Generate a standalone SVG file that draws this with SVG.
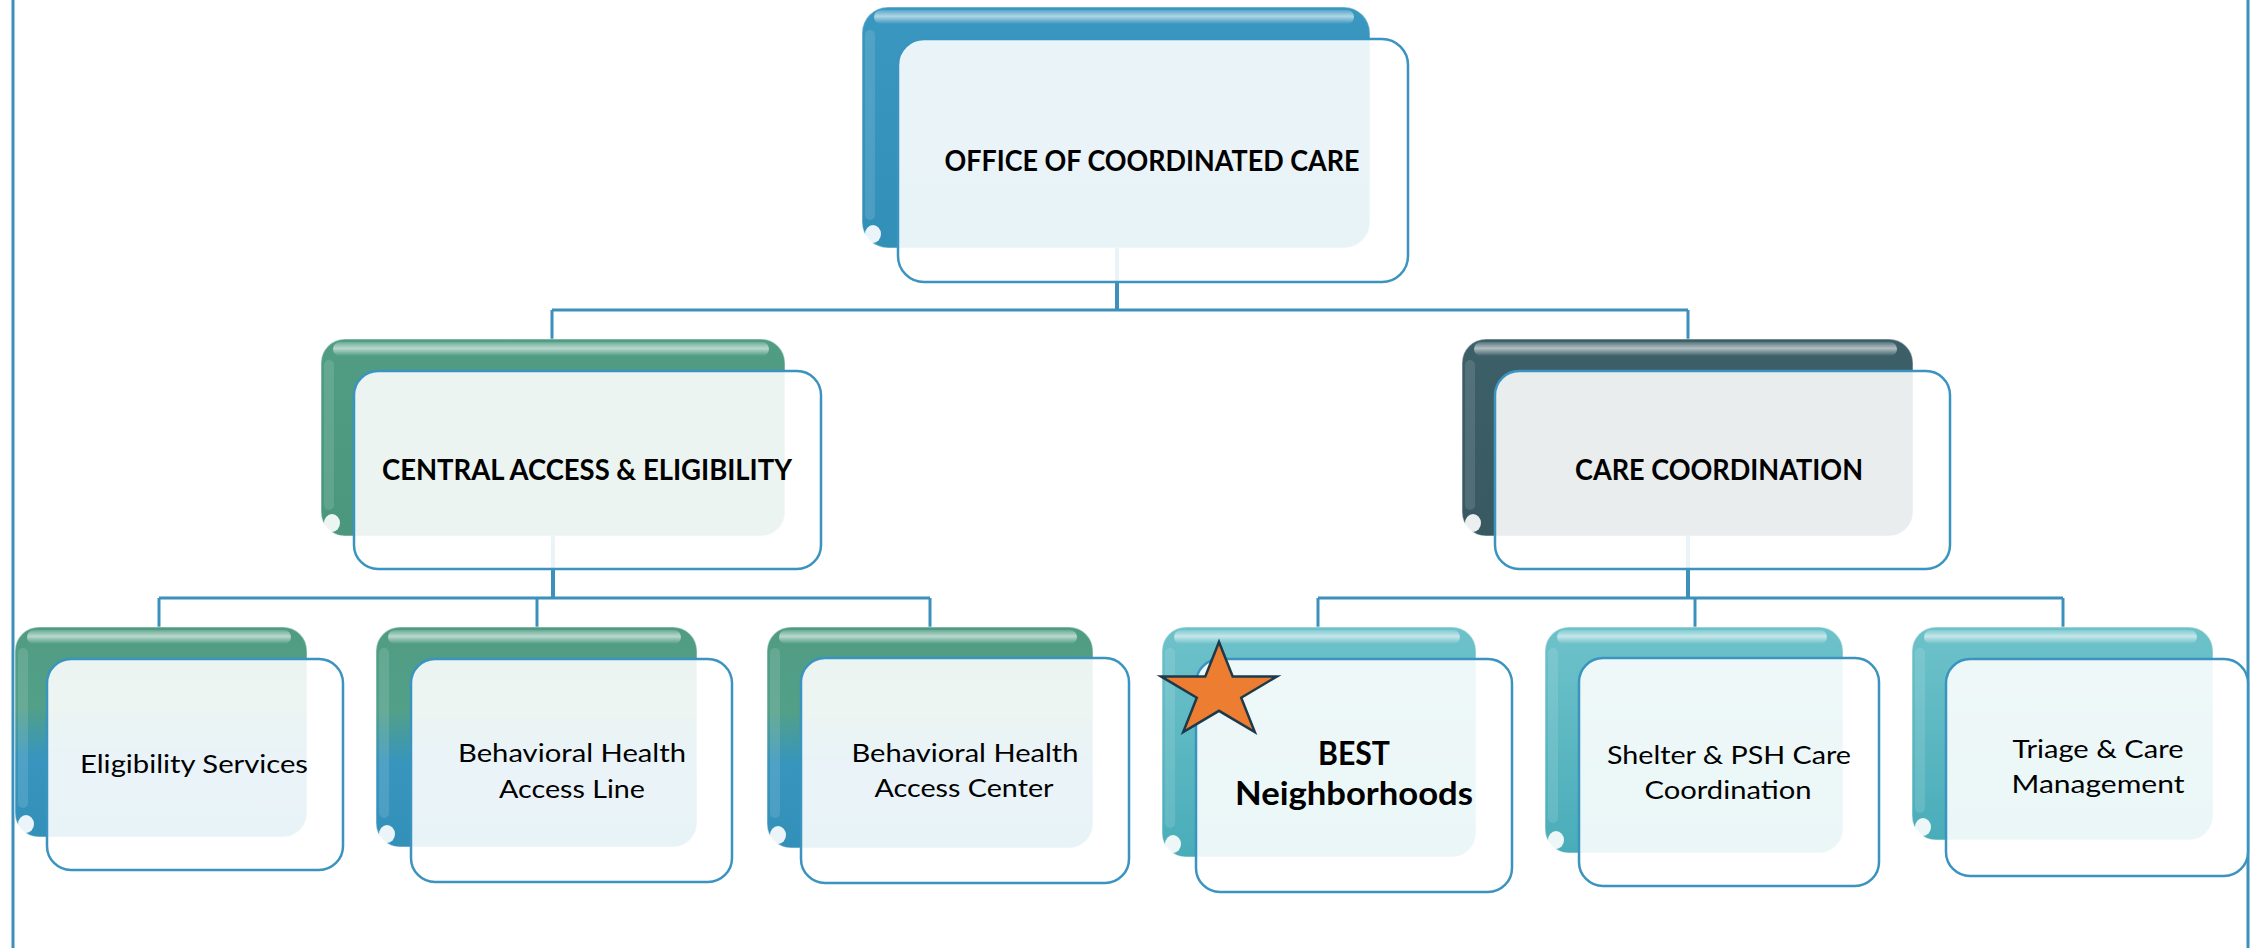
<svg xmlns="http://www.w3.org/2000/svg" width="2259" height="948" viewBox="0 0 2259 948">
<defs>
<style>
.conn{stroke:#3B90BC;stroke-width:3;fill:none}
.connb{stroke:#3B90BC;stroke-width:4;fill:none}
.frame{stroke:#3B90BC;stroke-width:3}
.front{fill:#FFFFFF;fill-opacity:0.89;stroke:#3B93C0;stroke-width:2.5}
.band{fill:url(#gHi)}
.stripe{fill:#FFFFFF;fill-opacity:0.12}
.gloss{fill:#FFFFFF;fill-opacity:0.9}
.rim{fill:none;stroke:#FFFFFF;stroke-opacity:0.35;stroke-width:1.5}
.t{font-family:Lato,"Liberation Sans","DejaVu Sans",sans-serif;fill:#000000;text-anchor:middle}
.b{font-weight:bold;font-size:29px}
.r{font-size:25.5px}
.bb{font-weight:bold;font-size:32px}
</style>
<linearGradient id="gBlue" x1="0" y1="0" x2="0" y2="1"><stop offset="0" stop-color="#3A98C0"/><stop offset="1" stop-color="#3290B8"/></linearGradient>
<linearGradient id="gGreen" x1="0" y1="0" x2="0" y2="1"><stop offset="0" stop-color="#519D84"/><stop offset="1" stop-color="#4B977E"/></linearGradient>
<linearGradient id="gSlate" x1="0" y1="0" x2="0" y2="1"><stop offset="0" stop-color="#3D5F68"/><stop offset="1" stop-color="#385962"/></linearGradient>
<linearGradient id="gGB" x1="0" y1="0" x2="0" y2="1"><stop offset="0" stop-color="#509C83"/><stop offset="0.38" stop-color="#52A088"/><stop offset="0.62" stop-color="#3795BE"/><stop offset="1" stop-color="#3390B8"/></linearGradient>
<linearGradient id="gTeal" x1="0" y1="0" x2="0" y2="1"><stop offset="0" stop-color="#6EC2CA"/><stop offset="1" stop-color="#49ADB9"/></linearGradient>
<linearGradient id="gHi" x1="0" y1="0" x2="0" y2="1"><stop offset="0" stop-color="#FFFFFF" stop-opacity="0.15"/><stop offset="0.45" stop-color="#FFFFFF" stop-opacity="0.6"/><stop offset="1" stop-color="#FFFFFF" stop-opacity="0"/></linearGradient>
</defs>
<rect x="0" y="0" width="2259" height="948" fill="#FFFFFF"/>
<line class="frame" x1="13" y1="0" x2="13" y2="948"/>
<line class="frame" x1="2248" y1="0" x2="2248" y2="948"/>

<g id="connectors">
<line class="connb" x1="1117" y1="248" x2="1117" y2="310"/>
<line class="conn" x1="552" y1="310" x2="1688" y2="310"/>
<line class="conn" x1="552" y1="310" x2="552" y2="339"/>
<line class="conn" x1="1688" y1="310" x2="1688" y2="339"/>
<line class="connb" x1="553" y1="536" x2="553" y2="598"/>
<line class="conn" x1="159" y1="598" x2="930" y2="598"/>
<line class="conn" x1="159" y1="598" x2="159" y2="627"/>
<line class="conn" x1="537" y1="598" x2="537" y2="627"/>
<line class="conn" x1="930" y1="598" x2="930" y2="627"/>
<line class="connb" x1="1688" y1="536" x2="1688" y2="598"/>
<line class="conn" x1="1318" y1="598" x2="2063" y2="598"/>
<line class="conn" x1="1318" y1="598" x2="1318" y2="627"/>
<line class="conn" x1="1695" y1="598" x2="1695" y2="627"/>
<line class="conn" x1="2063" y1="598" x2="2063" y2="627"/>
</g>

<g id="node-occ">
<rect x="862" y="7" width="508" height="241" rx="26" fill="url(#gBlue)"/>
<rect class="rim" x="862" y="7" width="508" height="241" rx="26"/>
<rect class="band" x="874" y="10" width="480" height="14" rx="7"/>
<rect class="stripe" x="865" y="30" width="10" height="190" rx="5"/>
<ellipse class="gloss" cx="873" cy="234" rx="8" ry="9"/>
<rect class="front" x="898" y="39" width="510" height="243" rx="26"/>
<text class="t b" x="1152" y="171" textLength="415" lengthAdjust="spacingAndGlyphs">OFFICE OF COORDINATED CARE</text>
</g>

<g id="node-cae">
<rect x="321" y="339" width="464" height="197" rx="24" fill="url(#gGreen)"/>
<rect class="rim" x="321" y="339" width="464" height="197" rx="24"/>
<rect class="band" x="333" y="342" width="436" height="14" rx="7"/>
<rect class="stripe" x="324" y="360" width="10" height="150" rx="5"/>
<ellipse class="gloss" cx="332" cy="523" rx="8" ry="9"/>
<rect class="front" x="354" y="371" width="467" height="198" rx="24"/>
<text class="t b" x="587" y="480" textLength="410" lengthAdjust="spacingAndGlyphs">CENTRAL ACCESS &amp; ELIGIBILITY</text>
</g>

<g id="node-cc">
<rect x="1462" y="339" width="451" height="197" rx="24" fill="url(#gSlate)"/>
<rect class="rim" x="1462" y="339" width="451" height="197" rx="24"/>
<rect class="band" x="1474" y="342" width="423" height="14" rx="7"/>
<rect class="stripe" x="1465" y="360" width="10" height="150" rx="5"/>
<ellipse class="gloss" cx="1473" cy="523" rx="8" ry="9"/>
<rect class="front" x="1495" y="371" width="455" height="198" rx="24"/>
<text class="t b" x="1719" y="480" textLength="288" lengthAdjust="spacingAndGlyphs">CARE COORDINATION</text>
</g>

<g id="node-elig">
<rect x="15" y="627" width="292" height="210" rx="24" fill="url(#gGB)"/>
<rect class="rim" x="15" y="627" width="292" height="210" rx="24"/>
<rect class="band" x="27" y="630" width="264" height="14" rx="7"/>
<rect class="stripe" x="18" y="648" width="10" height="160" rx="5"/>
<ellipse class="gloss" cx="26" cy="824" rx="8" ry="9"/>
<rect class="front" x="47" y="659" width="296" height="211" rx="24"/>
<text class="t r" x="194" y="773" textLength="228" lengthAdjust="spacingAndGlyphs">Eligibility Services</text>
</g>

<g id="node-bhal">
<rect x="376" y="627" width="321" height="220" rx="24" fill="url(#gGB)"/>
<rect class="rim" x="376" y="627" width="321" height="220" rx="24"/>
<rect class="band" x="388" y="630" width="293" height="14" rx="7"/>
<rect class="stripe" x="379" y="648" width="10" height="170" rx="5"/>
<ellipse class="gloss" cx="387" cy="834" rx="8" ry="9"/>
<rect class="front" x="411" y="659" width="321" height="223" rx="24"/>
<text class="t r" x="572" y="762" textLength="228" lengthAdjust="spacingAndGlyphs">Behavioral Health</text>
<text class="t r" x="572" y="798" textLength="146" lengthAdjust="spacingAndGlyphs">Access Line</text>
</g>

<g id="node-bhac">
<rect x="767" y="627" width="326" height="221" rx="24" fill="url(#gGB)"/>
<rect class="rim" x="767" y="627" width="326" height="221" rx="24"/>
<rect class="band" x="779" y="630" width="298" height="14" rx="7"/>
<rect class="stripe" x="770" y="648" width="10" height="170" rx="5"/>
<ellipse class="gloss" cx="778" cy="835" rx="8" ry="9"/>
<rect class="front" x="801" y="658" width="328" height="225" rx="24"/>
<text class="t r" x="965" y="762" textLength="227" lengthAdjust="spacingAndGlyphs">Behavioral Health</text>
<text class="t r" x="964" y="797" textLength="179" lengthAdjust="spacingAndGlyphs">Access Center</text>
</g>

<g id="node-best">
<rect x="1162" y="627" width="314" height="230" rx="24" fill="url(#gTeal)"/>
<rect class="rim" x="1162" y="627" width="314" height="230" rx="24"/>
<rect class="band" x="1174" y="630" width="286" height="14" rx="7"/>
<rect class="stripe" x="1165" y="648" width="10" height="180" rx="5"/>
<ellipse class="gloss" cx="1173" cy="844" rx="8" ry="9"/>
<rect class="front" x="1196" y="659" width="316" height="233" rx="24"/>
<text class="t bb" x="1354" y="765" textLength="72" lengthAdjust="spacingAndGlyphs">BEST</text>
<text class="t bb" x="1354" y="805" textLength="238" lengthAdjust="spacingAndGlyphs">Neighborhoods</text>
<polygon points="1219,642 1232.7,676.4 1277,676.4 1241.2,697.7 1254.8,732 1219,710.8 1183.2,732 1196.8,697.7 1161,676.4 1205.3,676.4" fill="#ED7D31" stroke="#1E3A4A" stroke-width="2.5" stroke-linejoin="miter"/>
</g>

<g id="node-shelter">
<rect x="1545" y="627" width="298" height="226" rx="24" fill="url(#gTeal)"/>
<rect class="rim" x="1545" y="627" width="298" height="226" rx="24"/>
<rect class="band" x="1557" y="630" width="270" height="14" rx="7"/>
<rect class="stripe" x="1548" y="648" width="10" height="175" rx="5"/>
<ellipse class="gloss" cx="1556" cy="840" rx="8" ry="9"/>
<rect class="front" x="1579" y="658" width="300" height="228" rx="24"/>
<text class="t r" x="1729" y="764" textLength="244" lengthAdjust="spacingAndGlyphs">Shelter &amp; PSH Care</text>
<text class="t r" x="1728" y="799" textLength="167" lengthAdjust="spacingAndGlyphs">Coordination</text>
</g>

<g id="node-triage">
<rect x="1912" y="627" width="301" height="213" rx="24" fill="url(#gTeal)"/>
<rect class="rim" x="1912" y="627" width="301" height="213" rx="24"/>
<rect class="band" x="1924" y="630" width="273" height="14" rx="7"/>
<rect class="stripe" x="1915" y="648" width="10" height="165" rx="5"/>
<ellipse class="gloss" cx="1923" cy="827" rx="8" ry="9"/>
<rect class="front" x="1946" y="659" width="302" height="217" rx="24"/>
<text class="t r" x="2098" y="758" textLength="171" lengthAdjust="spacingAndGlyphs">Triage &amp; Care</text>
<text class="t r" x="2098" y="793" textLength="173" lengthAdjust="spacingAndGlyphs">Management</text>
</g>
</svg>
